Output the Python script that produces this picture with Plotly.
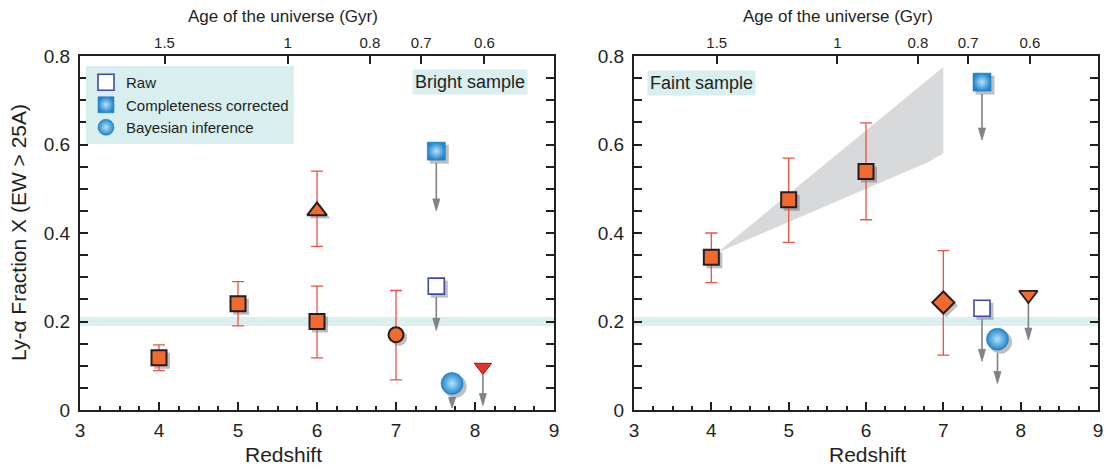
import plotly.graph_objects as go

# ---------------- data ----------------
# Bright sample (left panel)
bright_sq_z = [4, 5, 6]
bright_sq_x = [0.118, 0.240, 0.200]
bright_sq_hi = [0.147, 0.290, 0.280]
bright_sq_lo = [0.089, 0.190, 0.118]

bright_tri_z = [6]
bright_tri_x = [0.450]
bright_tri_hi = [0.540]
bright_tri_lo = [0.370]

bright_circ_z = [7]
bright_circ_x = [0.170]
bright_circ_hi = [0.270]
bright_circ_lo = [0.068]

bright_raw_z = [7.51]
bright_raw_x = [0.280]
bright_raw_tip = [0.180]

bright_cc_z = [7.51]
bright_cc_x = [0.585]
bright_cc_tip = [0.450]

bright_bayes_z = [7.71]
bright_bayes_x = [0.060]
bright_bayes_tip = [0.004]

bright_lim_z = [8.10]
bright_lim_x = [0.097]
bright_lim_tip = [0.010]

# Faint sample (right panel)
faint_sq_z = [4, 5, 6]
faint_sq_x = [0.345, 0.475, 0.539]
faint_sq_hi = [0.400, 0.569, 0.649]
faint_sq_lo = [0.288, 0.379, 0.430]

faint_dia_z = [7]
faint_dia_x = [0.243]
faint_dia_hi = [0.360]
faint_dia_lo = [0.124]

faint_raw_z = [7.50]
faint_raw_x = [0.230]
faint_raw_tip = [0.110]

faint_cc_z = [7.50]
faint_cc_x = [0.741]
faint_cc_tip = [0.610]

faint_bayes_z = [7.70]
faint_bayes_x = [0.160]
faint_bayes_tip = [0.060]

faint_lim_z = [8.10]
faint_lim_x = [0.260]
faint_lim_tip = [0.158]

wedge_upper_z = [4.07, 6.80, 7.00]
wedge_upper_x = [0.355, 0.745, 0.775]
wedge_lower_z = [4.07, 6.80, 7.00]
wedge_lower_x = [0.355, 0.560, 0.580]

band_lo, band_hi = 0.190, 0.210

age_tick_z = [4.07, 5.63, 6.67, 7.32, 8.12]
age_tick_text = ["1.5", "1", "0.8", "0.7", "0.6"]

# ---------------- style ----------------
WIN_W, WIN_H = 1113, 468
OFF = 8                      # default page body margin
FW, FH = WIN_W - OFF, WIN_H - OFF
FONT = "Liberation Sans, Arial, Helvetica, sans-serif"
INK = "#231f20"
ORANGE = "#f26a2e"
RED_ERR = "#f0504a"
GREY_ARROW = "#808285"
BLUE = "#1f86cf"
BLUE_LIGHT = "#b6e2f7"
TEAL_BG = "#d9eeee"
BAND = "#dcefef"
SHADOW = "rgba(70,70,70,0.35)"

L_X0, L_X1 = 80, 554
R_X0, R_X1 = 634, 1098
Y_TOP, Y_BOT = 56, 410
YPP = 0.8 / (Y_BOT - Y_TOP)


def px(xp):
    return (xp - OFF) / FW


def py(yp):
    return 1 - (yp - OFF) / FH


fig = go.Figure()


def panel(xa, ya, px0, px1):
    zpp = 6.0 / (px1 - px0)
    return dict(xaxis=xa, yaxis=ya, zpp=zpp)


def add_err_marker(p, z, v, hi, lo, symbol, size, fill, lw=2.0, lc=INK, shadow=True):
    if shadow:
        fig.add_trace(go.Scatter(
            x=[a + 3 * p["zpp"] for a in z], y=[b - 3 * YPP for b in v],
            mode="markers", xaxis=p["xaxis"], yaxis=p["yaxis"], showlegend=False, hoverinfo="skip",
            marker=dict(symbol=symbol, size=size + 1, color=SHADOW, line=dict(width=0))))
    fig.add_trace(go.Scatter(
        x=z, y=v, mode="markers", xaxis=p["xaxis"], yaxis=p["yaxis"], showlegend=False,
        error_y=dict(type="data", symmetric=False,
                     array=[h - b for h, b in zip(hi, v)],
                     arrayminus=[b - l for l, b in zip(lo, v)],
                     color=RED_ERR, thickness=1.3, width=6) if hi is not None else None,
        marker=dict(symbol=symbol, size=size, color=fill, line=dict(width=lw, color=lc))))


def add_arrow(p, z, start, tip):
    head_len = 12 * YPP
    half_w = 3.5 * p["zpp"]
    lx, ly, hx, hy = [], [], [], []
    for a, s, t in zip(z, start, tip):
        base = min(t + head_len, s)
        lx += [a, a, None]
        ly += [s, base, None]
        hx += [a - half_w, a + half_w, a, a - half_w, None]
        hy += [base, base, t, base, None]
    fig.add_trace(go.Scatter(x=lx, y=ly, mode="lines", xaxis=p["xaxis"], yaxis=p["yaxis"],
                             line=dict(color=GREY_ARROW, width=1.6), showlegend=False, hoverinfo="skip"))
    fig.add_trace(go.Scatter(x=hx, y=hy, mode="lines", fill="toself", fillcolor=GREY_ARROW,
                             xaxis=p["xaxis"], yaxis=p["yaxis"], line=dict(color=GREY_ARROW, width=0.8),
                             showlegend=False, hoverinfo="skip"))


def add_blue(p, z, v, symbol, size, name, legend, kind):
    fig.add_trace(go.Scatter(
        x=[a + 3 * p["zpp"] for a in z], y=[b - 3 * YPP for b in v],
        mode="markers", xaxis=p["xaxis"], yaxis=p["yaxis"], showlegend=False, hoverinfo="skip",
        marker=dict(symbol=symbol, size=size + 1, color=SHADOW, line=dict(width=0))))
    if kind == "raw":
        mk = dict(symbol=symbol, size=size, color="white", line=dict(width=1.6, color="#3b4aa6"))
    else:
        mk = dict(symbol=symbol, size=size, color=BLUE, line=dict(width=0.5, color="#1a6fb0"),
                  gradient=dict(type="radial", color=BLUE_LIGHT))
    fig.add_trace(go.Scatter(x=z, y=v, mode="markers", xaxis=p["xaxis"], yaxis=p["yaxis"],
                             name=name, showlegend=legend, marker=mk))


PL = panel("x", "y", L_X0, L_X1)
PR = panel("x2", "y2", R_X0, R_X1)

# wedge (right)
fig.add_trace(go.Scatter(
    x=wedge_upper_z + wedge_lower_z[::-1], y=wedge_upper_x + wedge_lower_x[::-1],
    mode="lines", fill="toself", fillcolor="#d8d9db", line=dict(width=0),
    xaxis="x2", yaxis="y2", showlegend=False, hoverinfo="skip"))

# ---- left panel ----
add_err_marker(PL, bright_sq_z, bright_sq_x, bright_sq_hi, bright_sq_lo, "square", 15, ORANGE)
add_err_marker(PL, bright_tri_z, bright_tri_x, bright_tri_hi, bright_tri_lo, "triangle-up", 17, ORANGE)
add_err_marker(PL, bright_circ_z, bright_circ_x, bright_circ_hi, bright_circ_lo, "circle", 15, ORANGE)


def start_of(v, half_px):
    return [b - (half_px + 3) * YPP for b in v]


add_arrow(PL, bright_raw_z, start_of(bright_raw_x, 8), bright_raw_tip)
add_arrow(PL, bright_cc_z, start_of(bright_cc_x, 9), bright_cc_tip)
add_arrow(PL, bright_bayes_z, start_of(bright_bayes_x, 11), bright_bayes_tip)
add_arrow(PL, bright_lim_z, start_of(bright_lim_x, 5), bright_lim_tip)

add_blue(PL, bright_raw_z, bright_raw_x, "square", 16, "Raw", True, "raw")
add_blue(PL, bright_cc_z, bright_cc_x, "square", 18, "Completeness corrected", True, "cc")
add_blue(PL, bright_bayes_z, bright_bayes_x, "circle", 22, "Bayesian inference", True, "bayes")
add_err_marker(PL, bright_lim_z, bright_lim_x, None, None, "triangle-down", 15, "#e8352b",
               lw=1.0, lc="#8a1c12", shadow=False)

# ---- right panel ----
add_err_marker(PR, faint_sq_z, faint_sq_x, faint_sq_hi, faint_sq_lo, "square", 15, ORANGE)
add_err_marker(PR, faint_dia_z, faint_dia_x, faint_dia_hi, faint_dia_lo, "diamond", 17, ORANGE)

add_arrow(PR, faint_raw_z, start_of(faint_raw_x, 8), faint_raw_tip)
add_arrow(PR, faint_cc_z, start_of(faint_cc_x, 9), faint_cc_tip)
add_arrow(PR, faint_bayes_z, start_of(faint_bayes_x, 11), faint_bayes_tip)
add_arrow(PR, faint_lim_z, start_of(faint_lim_x, 5), faint_lim_tip)

add_blue(PR, faint_raw_z, faint_raw_x, "square", 16, "Raw", False, "raw")
add_blue(PR, faint_cc_z, faint_cc_x, "square", 18, "Completeness corrected", False, "cc")
add_blue(PR, faint_bayes_z, faint_bayes_x, "circle", 22, "Bayesian inference", False, "bayes")
add_err_marker(PR, faint_lim_z, faint_lim_x, None, None, "triangle-down", 16, ORANGE, lw=1.8, shadow=False)

# invisible helper traces so the top (age) axes are drawn
for xa, ya in [("x3", "y"), ("x4", "y2")]:
    fig.add_trace(go.Scatter(x=age_tick_z, y=[None] * len(age_tick_z), mode="markers",
                             xaxis=xa, yaxis=ya, showlegend=False, hoverinfo="skip",
                             marker=dict(opacity=0)))


# ---------------- axes ----------------
def xax(px0, px1):
    return dict(domain=[px(px0), px(px1)], range=[3, 9], tick0=3, dtick=1, automargin=False,
                showline=True, linecolor=INK, linewidth=2, mirror=False,
                ticks="inside", ticklen=8, tickwidth=1.8, tickcolor=INK,
                minor=dict(ticks="inside", ticklen=4, tickwidth=1.5, tickcolor=INK, dtick=0.25),
                showgrid=False, zeroline=False, ticklabelstandoff=2,
                tickfont=dict(family=FONT, size=19, color=INK))


def yax(anchor):
    return dict(domain=[py(Y_BOT), py(Y_TOP)], range=[0, 0.8], tick0=0, dtick=0.2,
                anchor=anchor, automargin=False, showline=True, linecolor=INK, linewidth=2,
                mirror="allticks",
                ticks="inside", ticklen=8, tickwidth=1.8, tickcolor=INK,
                minor=dict(ticks="inside", ticklen=4, tickwidth=1.5, tickcolor=INK, dtick=0.05),
                showgrid=False, zeroline=False, ticklabelstandoff=4,
                tickfont=dict(family=FONT, size=19, color=INK))


def topax(over, anchor):
    return dict(overlaying=over, anchor=anchor, side="top", range=[3, 9], automargin=False,
                tickvals=age_tick_z, ticktext=age_tick_text,
                showline=True, linecolor=INK, linewidth=2,
                ticks="inside", ticklen=8, tickwidth=1.8, tickcolor=INK,
                showgrid=False, zeroline=False,
                tickfont=dict(family=FONT, size=15, color=INK))


def ann(text, xp, yp, size, **kw):
    d = dict(text=text, x=px(xp), y=py(yp), xref="paper", yref="paper", xanchor="center",
             yanchor="middle", showarrow=False, font=dict(family=FONT, size=size, color=INK))
    d.update(kw)
    return d


annotations = [
    ann("Age of the universe (Gyr)", 283, 16, 17),
    ann("Age of the universe (Gyr)", 838, 16, 17),
    ann("Redshift", 283, 454, 21),
    ann("Redshift", 867, 454, 21),
    ann("Ly-α Fraction X (EW > 25A)", 19, 233, 21, textangle=-90),
    ann("Bright sample", 470, 82, 18, bgcolor=TEAL_BG, borderpad=2),
    ann("Faint sample", 701, 83, 18, bgcolor=TEAL_BG, borderpad=2),
]

shapes = []
for xr, yr in [("x", "y"), ("x2", "y2")]:
    shapes.append(dict(type="rect", xref=xr, yref=yr, x0=3, x1=9, y0=band_lo, y1=band_hi,
                       fillcolor=BAND, line=dict(width=0), layer="below"))

fig.update_layout(
    width=FW, height=FH, margin=dict(l=0, r=0, t=0, b=0, pad=0, autoexpand=False),
    paper_bgcolor="white", plot_bgcolor="white",
    xaxis=xax(L_X0, L_X1), yaxis=yax("x"),
    xaxis2=xax(R_X0, R_X1), yaxis2=yax("x2"),
    xaxis3=topax("x", "y"), xaxis4=topax("x2", "y2"),
    annotations=annotations, shapes=shapes,
    legend=dict(x=px(86), y=py(66), xanchor="left", yanchor="top", bgcolor=TEAL_BG,
                font=dict(family=FONT, size=15, color=INK), itemwidth=30, tracegroupgap=0,
                traceorder="normal", borderwidth=0),
    showlegend=True,
)
fig.update_xaxes(fixedrange=True)
fig.update_yaxes(fixedrange=True)

fig.write_html("out.html")
